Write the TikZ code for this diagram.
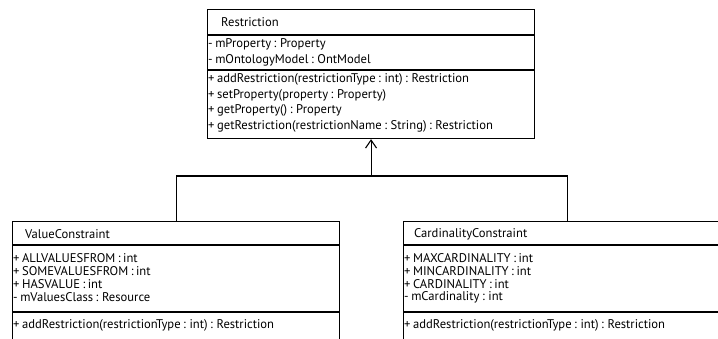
\documentclass[tikz,border=0pt]{standalone}
\usepackage{fontspec}
\setmainfont[WordSpace=0.75]{PT Sans}
\usetikzlibrary{arrows.meta}
\begin{document}
\begin{tikzpicture}[x=1pt,y=-1pt,
  classbox/.style={draw, line width=1.1pt, inner sep=0pt, minimum width=327pt, anchor=north west},
  sepline/.style={line width=1.1pt},
  member/.style={anchor=west, inner sep=0pt, font=\fontsize{12.6}{14}\selectfont},
  title/.style={anchor=west, inner sep=0pt, font=\fontsize{12.6}{14}\selectfont},
  link/.style={line width=1.1pt}
]
\useasboundingbox (0,0) rectangle (718,338);
\clip (0,0) rectangle (718,338);

% Restriction
\node[classbox, minimum height=129pt] (restr) at (207,9) {};
\draw[sepline] ([yshift=-26pt]restr.north west) -- ([yshift=-26pt]restr.north east);
\draw[sepline] ([yshift=-61pt]restr.north west) -- ([yshift=-61pt]restr.north east);
\node[title] (restrT) at (221,22) {Restriction};
\node[member] (r1) at (208,44) {- mProperty : Property};
\node[member] (r2) at (208,60) {- mOntologyModel : OntModel};
\node[member] (r3) at (208,79) {+ addRestriction(restrictionType : int) : Restriction};
\node[member] (r4) at (208,95) {+ setProperty(property : Property)};
\node[member] (r5) at (208,110) {+ getProperty() : Property};
\node[member] (r6) at (208,126) {+ getRestriction(restrictionName : String) : Restriction};

% ValueConstraint
\node[classbox, minimum height=140pt] (vc) at (12,221) {};
\draw[sepline] ([yshift=-24pt]vc.north west) -- ([yshift=-24pt]vc.north east);
\draw[sepline] ([yshift=-91pt]vc.north west) -- ([yshift=-91pt]vc.north east);
\node[title] (vcT) at (25,234) {ValueConstraint};
\node[member] (v1) at (13,258) {+ ALLVALUESFROM : int};
\node[member] (v2) at (13,271) {+ SOMEVALUESFROM : int};
\node[member] (v3) at (13,284) {+ HASVALUE : int};
\node[member] (v4) at (13,297) {- mValuesClass : Resource};
\node[member] (v5) at (13,325) {+ addRestriction(restrictionType : int) : Restriction};

% CardinalityConstraint
\node[classbox, minimum height=140pt] (cc) at (403,221) {};
\draw[sepline] ([yshift=-24pt]cc.north west) -- ([yshift=-24pt]cc.north east);
\draw[sepline] ([yshift=-91pt]cc.north west) -- ([yshift=-91pt]cc.north east);
\node[title] (ccT) at (414,234) {CardinalityConstraint};
\node[member] (c1) at (404,258) {+ MAXCARDINALITY : int};
\node[member] (c2) at (404,271) {+ MINCARDINALITY : int};
\node[member] (c3) at (404,284) {+ CARDINALITY : int};
\node[member] (c4) at (404,297) {- mCardinality : int};
\node[member] (c5) at (404,325) {+ addRestriction(restrictionType : int) : Restriction};

% Generalization connectors
\coordinate (hub) at (restr.south |- 0,176);
\draw[link] (vc.north) |- (hub) -| (cc.north);
\draw[link, -{Straight Barb[length=8pt, width=11pt, line width=1.1pt]}] (hub) -- (restr.south);
\end{tikzpicture}
\end{document}
